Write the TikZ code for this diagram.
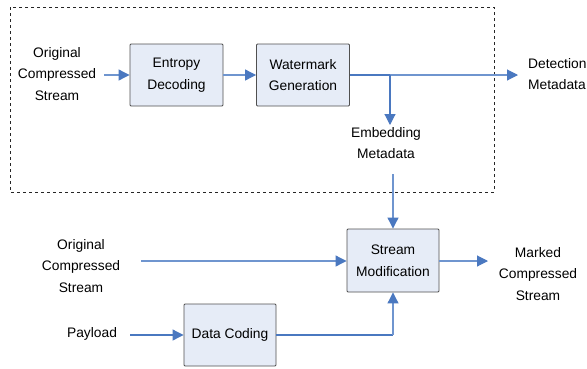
\documentclass[tikz,border=0pt]{standalone}
\usepackage{fontspec}
\setmainfont{Liberation Sans}
\usetikzlibrary{arrows.meta}
\definecolor{boxfill}{HTML}{E6ECF7}
\definecolor{boxline}{HTML}{505050}
\definecolor{flow}{HTML}{6F95CF}
\definecolor{flowdark}{HTML}{4A78C0}
\tikzset{
  blk/.style={draw=boxline, fill=boxfill, line width=0.9pt, rounded corners=1pt, align=center, inner sep=0pt},
  lbl/.style={align=center, inner sep=0pt},
  flw/.style={draw=flow, line width=1.1pt},
  flwd/.style={draw=flowdark, line width=1.1pt},
  arr/.style={-{Triangle[length=11pt,width=11pt,color=flowdark]}}
}
\begin{document}
\begin{tikzpicture}[x=1pt,y=-1pt, font=\fontsize{13.8}{21.5}\selectfont]
\useasboundingbox (0,0) rectangle (587,368);
\fill[white] (0,0) rectangle (587,368);
% dashed frame
\draw[dashed, line width=0.8pt, black!85] (10,7) rectangle (494,192);
% blocks
\node[blk, minimum width=93pt, minimum height=62pt] (ent) at (176.5,75) {Entropy\\Decoding};
\node[blk, minimum width=93pt, minimum height=62pt] (wm) at (303,75) {Watermark\\Generation};
\node[blk, minimum width=92pt, minimum height=63pt] (sm) at (393,260.5) {Stream\\Modification};
\node[blk, minimum width=92pt, minimum height=62pt] (dc) at (230,335) {Data Coding};
% labels
\node[lbl] (ocs1) at (57,74) {Original\\Compressed\\Stream};
\node[lbl, anchor=west, align=left] (det) at (528,74) {Detection\\Metadata};
\node[lbl] (emb) at (386,143) {Embedding\\Metadata};
\node[lbl] (ocs2) at (81,266) {Original\\Compressed\\Stream};
\node[lbl] (pay) at (92,334) {Payload};
\node[lbl] (mcs) at (538,274) {Marked\\Compressed\\Stream};
% coordinates
\coordinate (br) at (390,75);
\coordinate (detend) at (518,75);
\coordinate (embtop) at (393,174);
\coordinate (dcturn) at (393,335);
% connectors
\draw[flw, arr] (104,75) -- (ent.west);
\draw[flw, arr] (ent.east) -- (wm.west);
\draw[flwd] (wm.east) -- (br);
\draw[flw, arr] (br) -- (detend);
\draw[flwd, arr] (br) -- (390,125);
\draw[flw, arr] (embtop) -- (sm.north);
\draw[flw, arr] (141,261) -- (sm.west |- 0,261);
\draw[flwd, arr] (130,335) -- (dc.west);
\draw[flwd] (dc.east) -- (dcturn);
\draw[flw, arr] (dcturn) -- (sm.south);
\draw[flw, arr] (sm.east |- 0,261) -- (488,261);
\end{tikzpicture}
\end{document}
